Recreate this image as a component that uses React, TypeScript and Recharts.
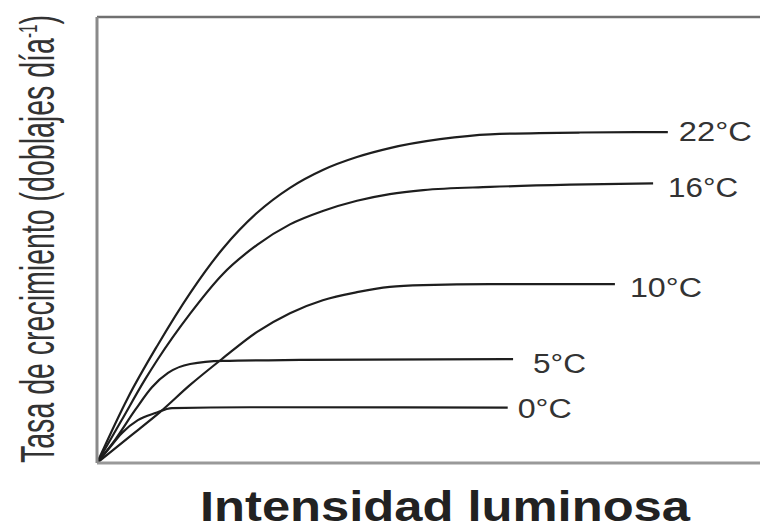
import React from 'react';
import { LineChart, Line, XAxis, YAxis, ReferenceLine, Label } from 'recharts';

// Light intensity (arbitrary units) and growth rate (arbitrary units) per temperature
const temperatures = ['22°C', '16°C', '10°C', '5°C', '0°C'];

const intensity22 = [0, 4.6, 9.0, 13.9, 18.8, 23.9, 28.8, 33.7, 38.8, 43.7, 51.2, 58.7, 72.1, 85.2];
const rate22 = [0, 14.6, 26.3, 38.1, 48.1, 56.1, 61.7, 65.7, 68.6, 70.6, 72.6, 73.7, 74.1, 74.2];

const intensity16 = [0, 3.6, 7.2, 9.0, 13.9, 18.8, 23.9, 28.8, 33.7, 38.8, 43.7, 48.7, 58.7, 70.6, 83.0];
const rate16 = [0, 9.4, 18.8, 23.1, 33.5, 42.4, 48.9, 53.5, 56.5, 58.8, 60.3, 61.2, 61.9, 62.4, 62.7];

const intensity10 = [0, 4.6, 9.4, 13.9, 18.8, 23.9, 28.8, 33.7, 38.8, 43.7, 48.7, 58.7, 77.3];
const rate10 = [0, 5.6, 11.4, 17.5, 23.5, 29.4, 33.6, 36.5, 38.3, 39.5, 39.9, 40.1, 40.1];

const intensity5 = [0, 2.7, 5.7, 8.2, 10.6, 13.9, 18.8, 30.3, 62.1];
const rate5 = [0, 5.2, 11.9, 17.0, 20.2, 22.2, 22.9, 23.1, 23.3];

const intensity0 = [0, 1.6, 3.7, 6.1, 8.7, 11.2, 22.8, 61.3];
const rate0 = [0, 2.9, 6.7, 9.6, 11.2, 12.3, 12.5, 12.4];

const xTitle = 'Intensidad luminosa';
const yTitle = 'Tasa de crecimiento (doblajes día';
const yTitleSup = '-1';

const build = (xs: number[], ys: number[]) => xs.map((x, i) => ({ x, y: ys[i] }));

const seriesData = [
  build(intensity22, rate22),
  build(intensity16, rate16),
  build(intensity10, rate10),
  build(intensity5, rate5),
  build(intensity0, rate0),
];

// label placement styles (gap after line end, baseline shift, text length)
const labelStyle = [
  { dx: 11, dy: 9, len: 73 },
  { dx: 15, dy: 14, len: 70 },
  { dx: 15, dy: 13, len: 72 },
  { dx: 20, dy: 14, len: 53 },
  { dx: 10, dy: 10, len: 54 },
];

const FONT = '"Liberation Sans", Arial, sans-serif';

const makeEndLabel = (si: number) => (props: any) => {
  const { x, y, index } = props;
  if (index !== seriesData[si].length - 1) return null;
  const st = labelStyle[si];
  return (
    <text
      key={`lbl-${si}`}
      x={x + st.dx}
      y={y + st.dy}
      fontFamily={FONT}
      fontSize={27}
      fill="#333"
      textLength={st.len}
      lengthAdjust="spacingAndGlyphs"
    >
      {temperatures[si]}
    </text>
  );
};

const XTitle = (props: any) => {
  const vb = props.viewBox || { x: 89, y: 455, width: 670, height: 1 };
  return (
    <text
      x={vb.x + vb.width / 2 + 13}
      y={455 + 58}
      textAnchor="middle"
      fontFamily={FONT}
      fontWeight="bold"
      fontSize={42}
      fill="#222"
      textLength={490}
      lengthAdjust="spacingAndGlyphs"
    >
      {xTitle}
    </text>
  );
};

const YTitle = () => {
  const bx = 46;
  const by = 455;
  return (
    <text
      transform={`translate(${bx}, ${by}) rotate(-90) scale(1, 1.7)`}
      x={0}
      y={0}
      fontFamily={FONT}
      fontSize={28}
      fill="#333"
      textLength={448}
      lengthAdjust="spacingAndGlyphs"
    >
      {yTitle}
      <tspan dy={-10} fontSize={15}>{yTitleSup}</tspan>
      <tspan dy={10}>)</tspan>
    </text>
  );
};

export default function App() {
  return (
    <LineChart
      width={760}
      height={521}
      margin={{ top: 9, right: 1, bottom: 65, left: 88 }}
      style={{ overflow: 'visible' }}
    >
      <XAxis
        type="number"
        dataKey="x"
        domain={[0, 100]}
        allowDataOverflow
        tick={false}
        tickLine={false}
        height={1}
        axisLine={{ stroke: '#999', strokeWidth: 3 }}
      >
        <Label content={XTitle} />
      </XAxis>
      <YAxis
        type="number"
        dataKey="y"
        domain={[0, 100]}
        allowDataOverflow
        tick={false}
        tickLine={false}
        width={1}
        axisLine={{ stroke: '#8a8a8a', strokeWidth: 3 }}
      >
        <Label content={YTitle} />
      </YAxis>
      <ReferenceLine y={100} stroke="#707070" strokeWidth={2.5} />
      {seriesData.map((d, i) => (
        <Line
          key={temperatures[i]}
          data={d}
          dataKey="y"
          type="monotone"
          stroke="#1e1e1e"
          strokeWidth={2.2}
          dot={false}
          activeDot={false}
          isAnimationActive={false}
          label={makeEndLabel(i)}
        />
      ))}
    </LineChart>
  );
}
